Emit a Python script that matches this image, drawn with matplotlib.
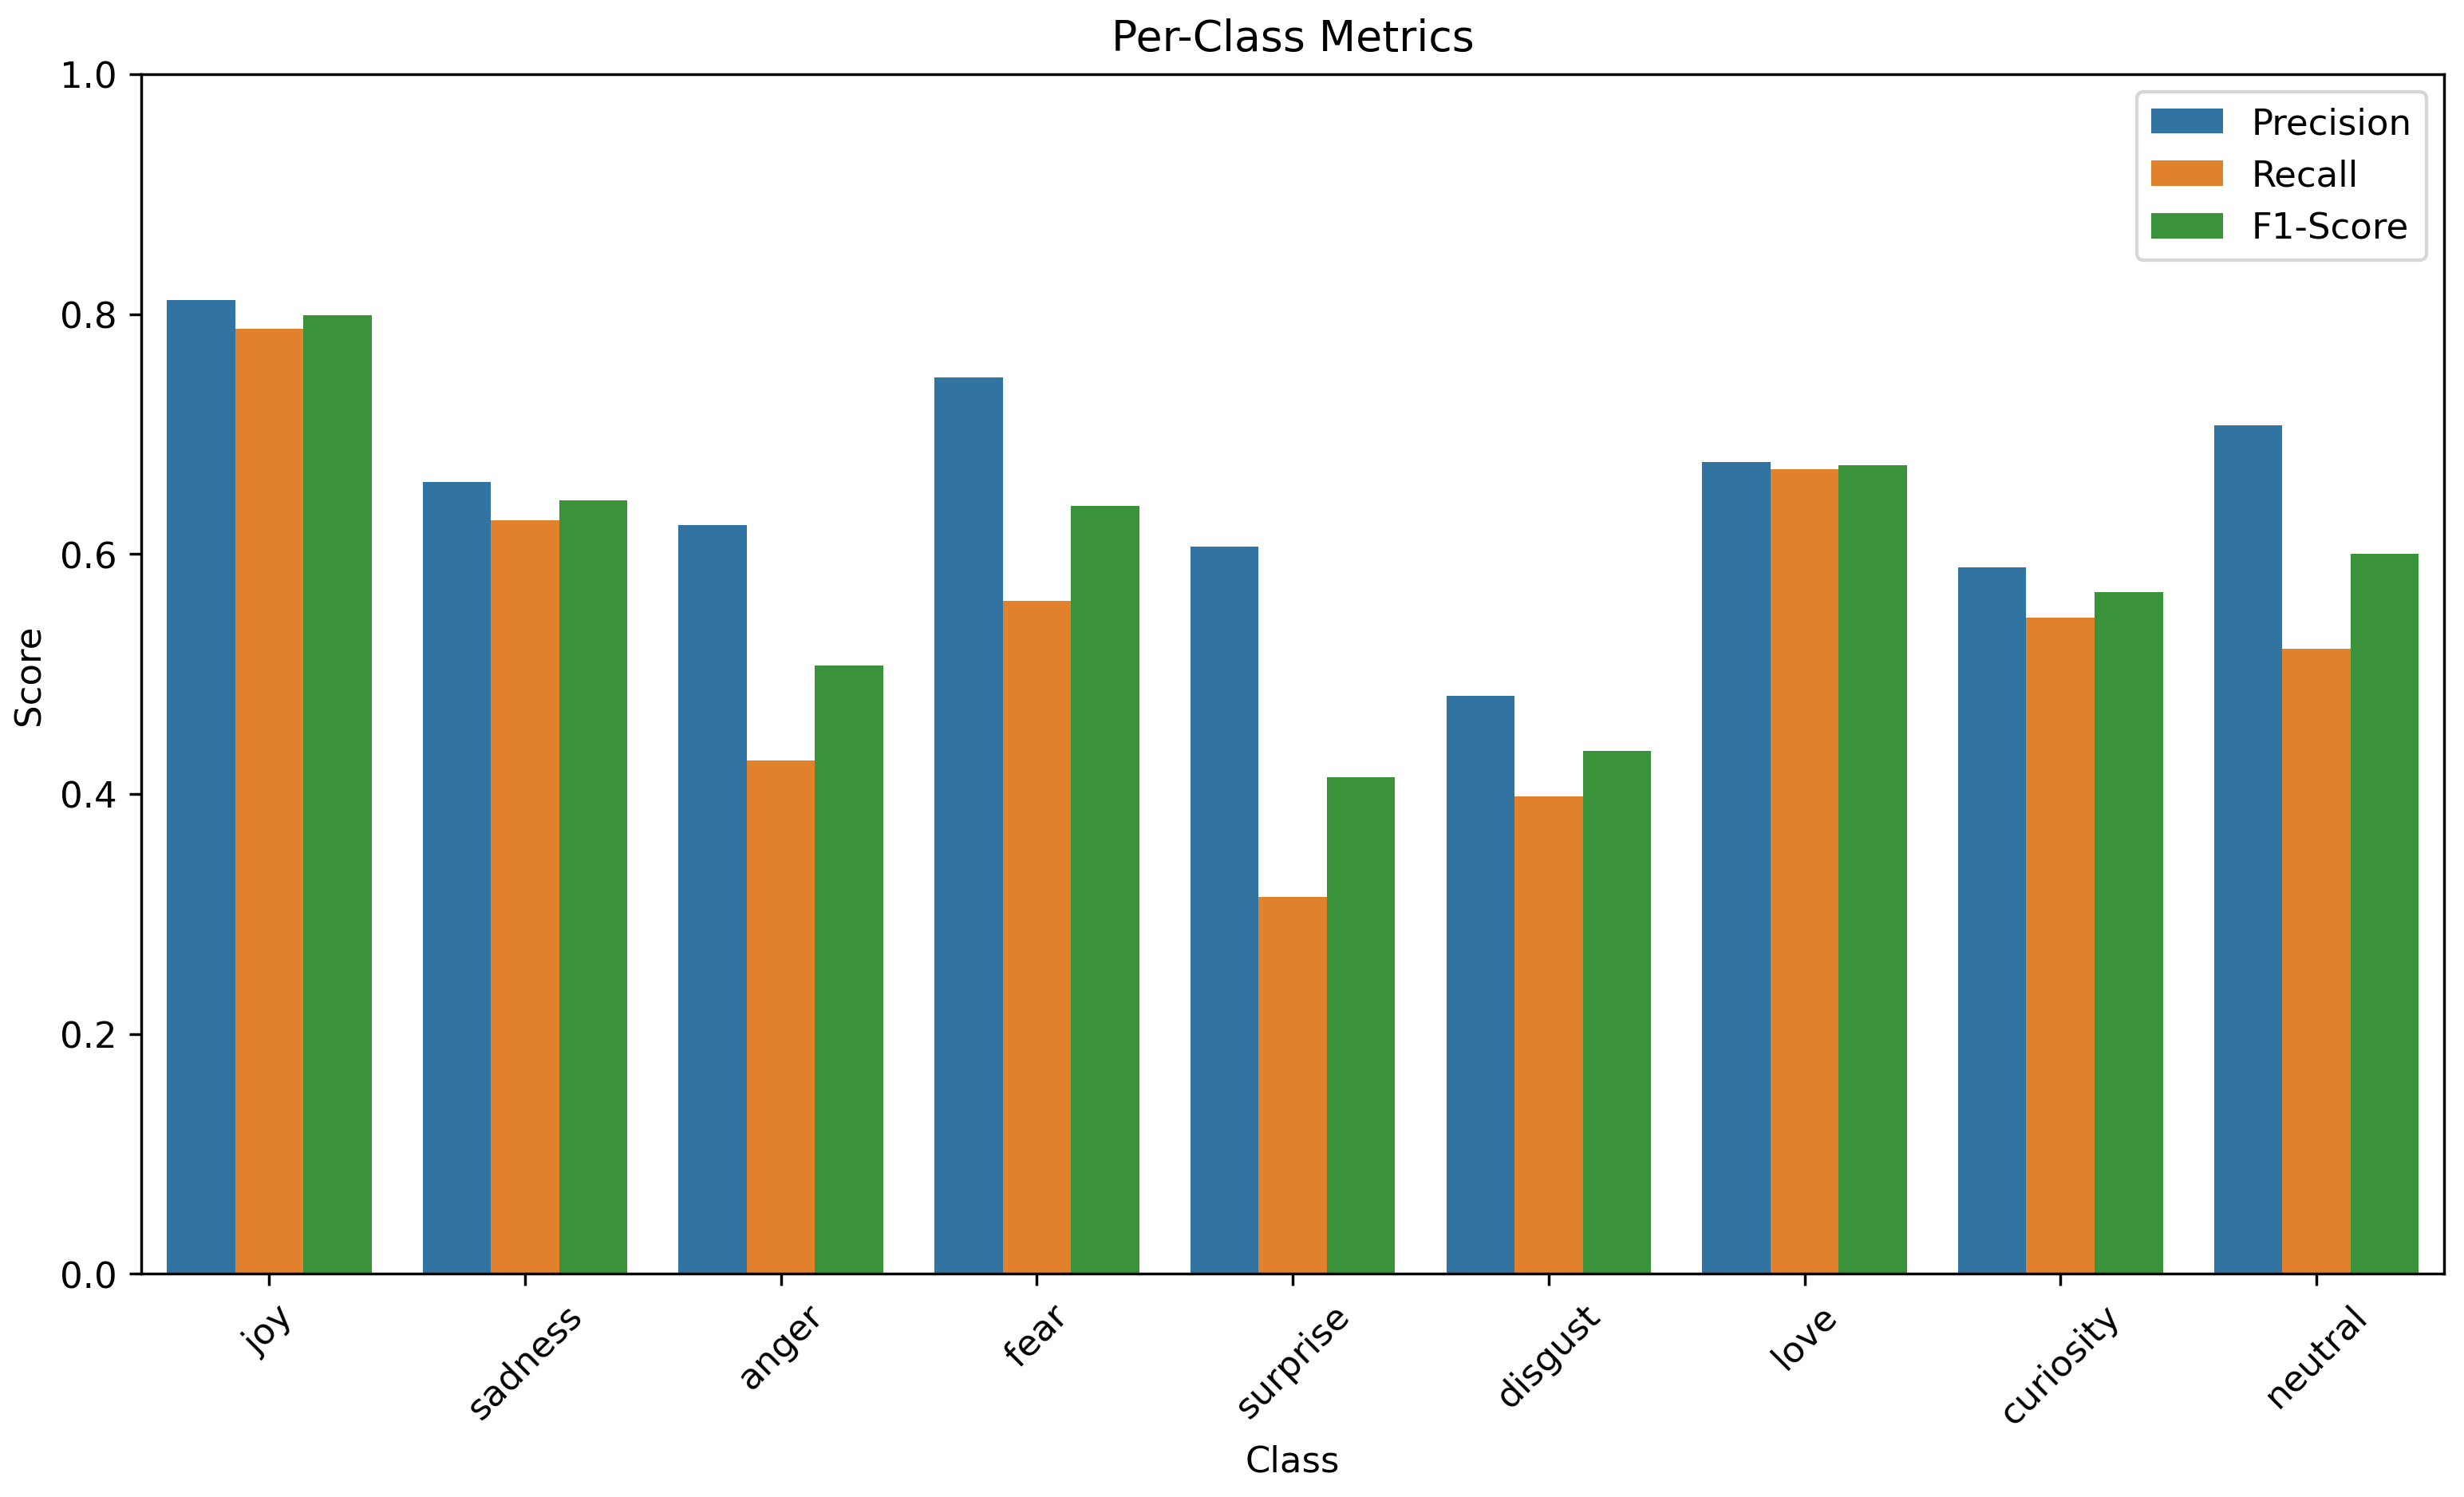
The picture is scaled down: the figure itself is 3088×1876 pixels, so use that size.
import matplotlib
matplotlib.use("Agg")
import matplotlib.pyplot as plt
import seaborn as sns
import pandas as pd

# 各类别的指标
classes = ["joy", "sadness", "anger", "fear", "surprise", "disgust", "love", "curiosity", "neutral"]
precision = [0.812, 0.660, 0.624, 0.747, 0.606, 0.482, 0.677, 0.589, 0.707]
recall = [0.788, 0.628, 0.428, 0.561, 0.314, 0.398, 0.671, 0.547, 0.521]
f1_score = [0.799, 0.645, 0.507, 0.640, 0.414, 0.436, 0.674, 0.568, 0.600]
metric_names = ["Precision", "Recall", "F1-Score"]

rows = []
for name, vals in zip(metric_names, [precision, recall, f1_score]):
    for c, v in zip(classes, vals):
        rows.append({"Class": c, "Metric": name, "Score": v})
df = pd.DataFrame(rows)

plt.rcParams['font.size'] = 10.5

fig = plt.figure(figsize=(10, 6.078), dpi=308.8)
ax = fig.add_subplot(111)
sns.barplot(data=df, x="Class", y="Score", hue="Metric", ax=ax)
ax.set_title("Per-Class Metrics", fontsize=12.5, pad=7)
ax.set_xlabel("Class")
ax.set_ylabel("Score")
ax.set_ylim(0, 1.0)
plt.xticks(rotation=45)
ax.legend(loc="upper right")
fig.subplots_adjust(left=0.0573, right=0.992, top=0.950, bottom=0.149)
fig.savefig("out.png", dpi=308.8)
